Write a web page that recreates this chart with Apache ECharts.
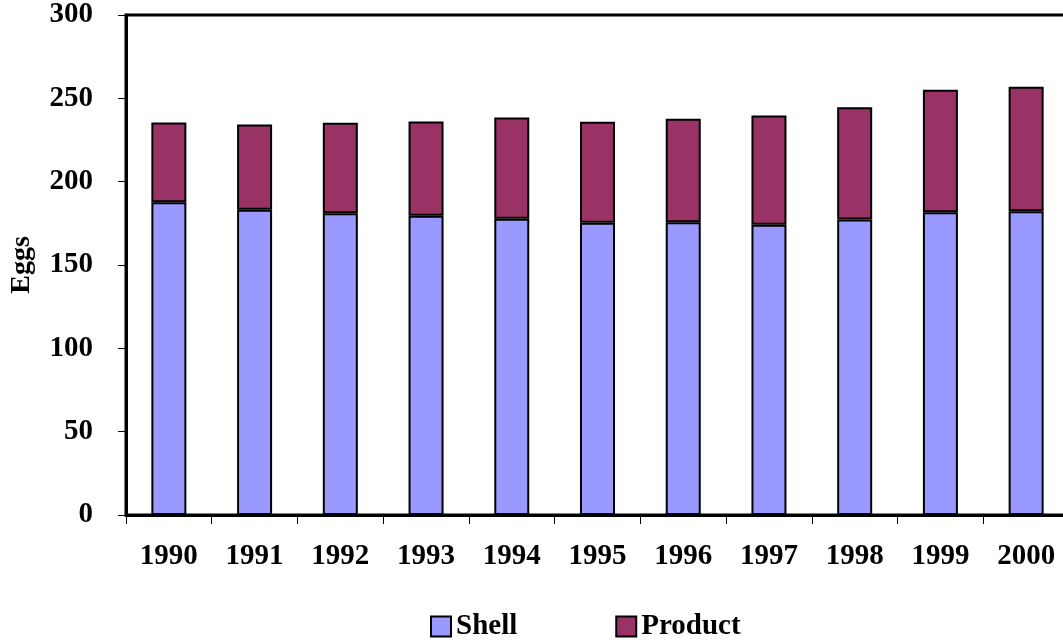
<!DOCTYPE html>
<html>
<head>
<meta charset="utf-8">
<script src="https://cdn.jsdelivr.net/npm/echarts@6/dist/echarts.min.js"></script>
<style>
  html, body { margin: 0; padding: 0; background: #fff; }
  #chart { width: 1063px; height: 640px; }
</style>
</head>
<body>
<div id="chart"></div>
<script>
// categories and values
var years = ['1990', '1991', '1992', '1993', '1994', '1995', '1996', '1997', '1998', '1999', '2000']
var shell = [187.7, 183.1, 181.1, 179.5, 177.7, 175.3, 175.7, 174.1, 177.3, 181.7, 182.3]
var product = [47.8, 51.2, 54.2, 56.6, 60.8, 60.6, 62.0, 65.6, 67.4, 73.4, 74.6]

var font = 'Liberation Serif, Times New Roman, serif'
var fs = 29

let draw = echarts.init(document.getElementById('chart'))
draw.setOption({
    animation: false,
    textStyle: { fontFamily: font },
    legend: {
        data: ['Shell', 'Product'],
        left: 425,
        top: 607,
        itemWidth: 20,
        itemHeight: 20,
        itemGap: 98,
        icon: 'rect',
        textStyle: { fontFamily: font, fontWeight: 'bold', fontSize: fs, color: '#000' }
    },
    grid: {
        left: 126, top: 15, width: 943, height: 500,
        outerBoundsMode: 'none',
        containLabel: false,
        show: true, borderColor: '#000', borderWidth: 3
    },
    xAxis: {
        type: 'category',
        data: years,
        axisLine: { lineStyle: { color: '#000', width: 3 } },
        axisTick: { show: true, length: 9, lineStyle: { color: '#000', width: 1 } },
        axisLabel: { margin: 27, color: '#000', fontWeight: 'bold', fontSize: fs, fontFamily: font }
    },
    yAxis: {
        type: 'value',
        min: 0, max: 300, interval: 50,
        name: 'Eggs',
        nameLocation: 'middle',
        nameRotate: 90,
        nameGap: 90,
        nameTextStyle: { color: '#000', fontWeight: 'bold', fontSize: 28, fontFamily: font },
        splitLine: { show: false },
        axisLine: { show: true, lineStyle: { color: '#000', width: 3 } },
        axisTick: { show: true, length: 8, lineStyle: { color: '#000', width: 1 } },
        axisLabel: { margin: 33, color: '#000', fontWeight: 'bold', fontSize: fs, fontFamily: font }
    },
    series: [
        {
            name: 'Shell', type: 'bar', stack: 'eggs', barWidth: 35,
            data: shell,
            itemStyle: { color: '#9999FF', borderColor: '#000', borderWidth: 2 }
        },
        {
            name: 'Product', type: 'bar', stack: 'eggs', barWidth: 35,
            data: product,
            itemStyle: { color: '#993366', borderColor: '#000', borderWidth: 2 }
        }
    ]
})
</script>
</body>
</html>
